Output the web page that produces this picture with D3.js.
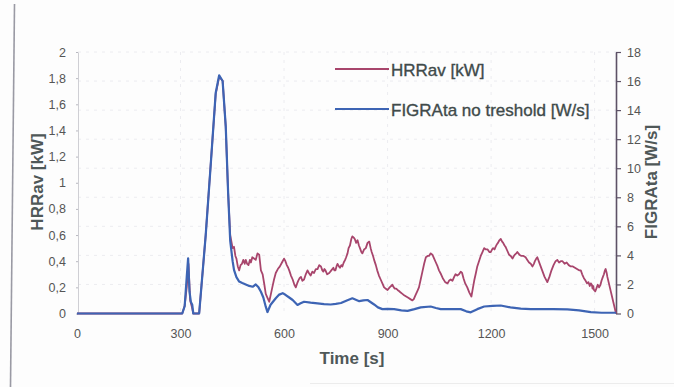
<!DOCTYPE html>
<html>
<head>
<meta charset="utf-8">
<script src="https://cdn.jsdelivr.net/npm/d3@7"></script>
<style>
  html, body { margin: 0; padding: 0; background: #fdfdfd; }
  svg { display: block; font-family: "Liberation Sans", Arial, sans-serif; }
</style>
</head>
<body>
<svg id="chart" width="674" height="387"></svg>
<script>
// HRRav [kW] over time
const hrrTime = [0, 305, 312, 318, 323, 328, 333, 337, 354, 373, 388, 402, 412, 422, 431, 438, 444, 451,
  455, 459, 462, 466, 470, 474, 478, 482, 486, 489, 493, 497, 501, 504, 508, 513, 518, 523, 528, 533,
  538, 543, 547, 552, 557, 562, 566, 571, 576, 582, 588, 594, 600, 604, 608, 612, 615, 620, 625, 630,
  634, 638, 641, 645, 649, 653, 658, 663, 668, 672, 677, 682, 687, 692, 697, 702, 707, 711, 714, 717,
  720, 725, 731, 737, 743, 746, 749, 752, 755, 759, 762, 766, 769, 773, 777, 780, 784, 787, 791, 795,
  798, 802, 805, 809, 813, 817, 820, 824, 827, 832, 837, 842, 847, 851, 854, 858, 861, 866, 870, 875,
  880, 885, 890, 895, 900, 906, 914, 918, 921, 925, 929, 934, 938, 943, 948, 954, 960, 966, 972, 976,
  981, 986, 991, 996, 1001, 1006, 1011, 1016, 1020, 1025, 1030, 1035, 1040, 1045, 1049, 1055, 1060,
  1067, 1074, 1078, 1083, 1088, 1093, 1097, 1102, 1107, 1112, 1116, 1120, 1125, 1131, 1137, 1143, 1147,
  1151, 1156, 1160, 1165, 1170, 1175, 1180, 1185, 1190, 1195, 1199, 1203, 1206, 1210, 1213, 1217, 1220,
  1224, 1228, 1232, 1235, 1239, 1242, 1247, 1252, 1257, 1262, 1266, 1269, 1273, 1276, 1282, 1288, 1294,
  1300, 1305, 1310, 1315, 1320, 1324, 1327, 1331, 1334, 1341, 1348, 1355, 1363, 1369, 1375, 1381, 1387,
  1392, 1397, 1402, 1407, 1413, 1419, 1425, 1431, 1437, 1443, 1449, 1455, 1460, 1464, 1469, 1474, 1478,
  1482, 1486, 1489, 1492, 1494, 1496, 1498, 1502, 1505, 1509, 1513, 1517, 1520, 1524, 1527, 1530, 1532,
  1535, 1537, 1562];
const hrrValue = [0, 0, 0.06, 0.2, 0.38, 0.1, 0.05, 0, 0, 0.6, 1.16, 1.68, 1.81, 1.78, 1.43, 0.92, 0.6, 0.5,
  0.51, 0.44, 0.42, 0.36, 0.33, 0.37, 0.38, 0.41, 0.38, 0.41, 0.38, 0.37, 0.41, 0.39, 0.43, 0.42, 0.41, 0.46, 0.45, 0.33,
  0.3, 0.22, 0.15, 0.12, 0.09, 0.15, 0.2, 0.26, 0.31, 0.34, 0.36, 0.39, 0.42, 0.4, 0.37, 0.35, 0.33, 0.29, 0.26, 0.22,
  0.2, 0.23, 0.25, 0.27, 0.28, 0.25, 0.26, 0.3, 0.33, 0.31, 0.29, 0.32, 0.31, 0.34, 0.34, 0.37, 0.36, 0.33, 0.32, 0.34,
  0.33, 0.3, 0.31, 0.33, 0.35, 0.33, 0.33, 0.36, 0.38, 0.36, 0.35, 0.37, 0.36, 0.39, 0.41, 0.43, 0.46, 0.5, 0.52, 0.57,
  0.59, 0.58, 0.57, 0.54, 0.56, 0.52, 0.5, 0.47, 0.46, 0.49, 0.5, 0.54, 0.55, 0.5, 0.47, 0.44, 0.41, 0.37, 0.33, 0.29,
  0.26, 0.23, 0.2, 0.19, 0.18, 0.2, 0.22, 0.2, 0.19, 0.19, 0.18, 0.17, 0.16, 0.15, 0.14, 0.13, 0.12, 0.11, 0.1, 0.11,
  0.14, 0.17, 0.2, 0.26, 0.32, 0.38, 0.43, 0.44, 0.44, 0.46, 0.45, 0.42, 0.39, 0.36, 0.33, 0.3, 0.27,
  0.24, 0.23, 0.25, 0.26, 0.25, 0.28, 0.3, 0.29, 0.3, 0.32, 0.31, 0.27, 0.23, 0.2, 0.16, 0.13, 0.19,
  0.25, 0.31, 0.36, 0.4, 0.44, 0.47, 0.5, 0.49, 0.49, 0.47, 0.47, 0.49, 0.5, 0.49, 0.51, 0.53, 0.54,
  0.56, 0.57, 0.55, 0.54, 0.52, 0.51, 0.48, 0.45, 0.44, 0.42, 0.44, 0.45, 0.46, 0.47, 0.45, 0.44, 0.44,
  0.43, 0.41, 0.39, 0.38, 0.36, 0.38, 0.4, 0.42, 0.43, 0.38, 0.33, 0.28, 0.24, 0.28, 0.33, 0.37, 0.4,
  0.41, 0.39, 0.4, 0.4, 0.38, 0.39, 0.37, 0.36, 0.36, 0.35, 0.34, 0.33, 0.33, 0.3, 0.27, 0.25, 0.23, 0.24,
  0.21, 0.23, 0.22, 0.19, 0.21, 0.18, 0.17, 0.19, 0.22, 0.2, 0.22, 0.25, 0.28, 0.3, 0.33, 0.34, 0.31,
  0.28, 0, 0];

// FIGRAta no treshold [W/s] over time
const figraTime = [0, 305, 312, 318, 322, 326, 330, 334, 337, 354, 373, 388, 402, 412, 422, 431, 438, 444,
  451, 455, 462, 470, 479, 489, 499, 509, 518, 526, 533, 540, 547, 552, 561, 576, 586, 596, 605, 615,
  625, 639, 648, 658, 677, 697, 716, 735, 750, 765, 782, 798, 818, 830, 842, 861, 872, 885, 900, 919,
  940, 958, 978, 996, 1025, 1040, 1054, 1083, 1112, 1128, 1141, 1160, 1180, 1205, 1228, 1256, 1286,
  1315, 1344, 1380, 1421, 1455, 1489, 1520, 1562];
const figraValue = [0, 0, 0.5, 2.5, 3.8, 1.5, 0.8, 0.6, 0, 0, 5.4, 10.4, 15.2, 16.4, 16.0, 12.9, 8.3, 5.0,
  3.6, 3.0, 2.5, 2.2, 2.1, 2.0, 1.9, 1.84, 2.0, 1.8, 1.5, 1.1, 0.47, 0.1, 0.6, 1.05, 1.3, 1.4, 1.27, 1.1,
  0.93, 0.59, 0.7, 0.81, 0.75, 0.7, 0.65, 0.62, 0.66, 0.72, 0.9, 1.05, 0.85, 0.9, 0.93, 0.62, 0.42, 0.3, 0.32, 0.3,
  0.22, 0.18, 0.3, 0.42, 0.48, 0.38, 0.3, 0.3, 0.3, 0.15, 0.08, 0.3, 0.48, 0.52, 0.55, 0.42, 0.34,
  0.3, 0.3, 0.3, 0.28, 0.22, 0.1, 0.05, 0.05];

const leftTicks = [0, 0.2, 0.4, 0.6, 0.8, 1, 1.2, 1.4, 1.6, 1.8, 2];
const rightTicks = [0, 2, 4, 6, 8, 10, 12, 14, 16, 18];
const timeTicks = [0, 300, 600, 900, 1200, 1500];

const hrrColor = "#a8456c";
const figraColor = "#3d64b4";
const textColor = "#4f5858";

const svg = d3.select("#chart");

const x = d3.scaleLinear().domain([0, 1562]).range([77, 616]);
const yL = d3.scaleLinear().domain([0, 2]).range([313.5, 52]);
const yR = d3.scaleLinear().domain([0, 18]).range([313.5, 52]);

// scan frame edge on the left
svg.append("line").attr("x1", 14.5).attr("y1", 4).attr("x2", 10.5).attr("y2", 387)
  .attr("stroke", "#9a9aa4").attr("stroke-width", 1.6);
svg.append("line").attr("x1", 310).attr("y1", 383.5).attr("x2", 674).attr("y2", 383.5)
  .attr("stroke", "#ececec").attr("stroke-width", 1);

// faint dashed grid
const grid = svg.append("g").attr("stroke", "#ececf0").attr("stroke-width", 1).attr("stroke-dasharray", "3,5");
grid.selectAll("line.v").data(timeTicks.slice(1)).join("line")
  .attr("x1", d => x(d)).attr("x2", d => x(d)).attr("y1", 52).attr("y2", 313.5);
grid.selectAll("line.h").data(rightTicks.slice(1)).join("line")
  .attr("x1", 78).attr("x2", 616).attr("y1", d => yR(d)).attr("y2", d => yR(d));

const tickFont = g => g.selectAll("text").attr("fill", "#555").attr("font-size", "12.5px")
  .attr("font-family", "Liberation Sans, Arial, sans-serif");

// left axis
const fmtComma = d => d3.format("~g")(d).replace(".", ",");
const gL = svg.append("g").attr("transform", "translate(78,0)")
  .call(d3.axisLeft(yL).tickValues(leftTicks).tickFormat(fmtComma).tickSizeInner(2).tickSizeOuter(0).tickPadding(10));
gL.select(".domain").attr("stroke", "#cfcfd4");
gL.selectAll(".tick line").attr("stroke", "#b8b8c0");
tickFont(gL);

// right axis
const gR = svg.append("g").attr("transform", "translate(616,0)")
  .call(d3.axisRight(yR).tickValues(rightTicks).tickSizeInner(5).tickSizeOuter(0).tickPadding(6));
gR.select(".domain").attr("stroke", "#5d5266").attr("stroke-width", 1.6);
gR.selectAll(".tick line").attr("stroke", "#5d5266").attr("stroke-width", 1.2);
tickFont(gR);

// bottom axis (labels only)
const gB = svg.append("g").attr("transform", "translate(0,313.5)")
  .call(d3.axisBottom(x).tickValues(timeTicks).tickFormat(d3.format("d")).tickSize(0).tickPadding(16));
gB.select(".domain").remove();
tickFont(gB);

// series
const lineHrr = d3.line().x((d, i) => x(hrrTime[i])).y(d => yL(d));
const lineFigra = d3.line().x((d, i) => x(figraTime[i])).y(d => yR(d));

svg.append("path").datum(hrrValue).attr("d", lineHrr)
  .attr("fill", "none").attr("stroke", hrrColor).attr("stroke-width", 1.8).attr("stroke-linejoin", "round");
svg.append("path").datum(figraValue).attr("d", lineFigra)
  .attr("fill", "none").attr("stroke", figraColor).attr("stroke-width", 2.2).attr("stroke-linejoin", "round");

// axis titles
svg.append("text").attr("x", 352).attr("y", 364).attr("text-anchor", "middle")
  .attr("font-size", "17px").attr("font-weight", "bold").attr("fill", textColor).text("Time [s]");
svg.append("text").attr("transform", "translate(43,182) rotate(-90)").attr("text-anchor", "middle")
  .attr("font-size", "17px").attr("font-weight", "bold").attr("fill", textColor).text("HRRav [kW]");
svg.append("text").attr("transform", "translate(657,182) rotate(-90)").attr("text-anchor", "middle")
  .attr("font-size", "17px").attr("font-weight", "bold").attr("fill", textColor).text("FIGRAta [W/s]");

// legend
const legend = [
  { label: "HRRav [kW]", color: hrrColor, y: 69 },
  { label: "FIGRAta no treshold [W/s]", color: figraColor, y: 109 }
];
const lg = svg.append("g");
lg.selectAll("line").data(legend).join("line")
  .attr("x1", 335).attr("x2", 389).attr("y1", d => d.y).attr("y2", d => d.y)
  .attr("stroke", d => d.color).attr("stroke-width", 2);
lg.selectAll("text").data(legend).join("text")
  .attr("x", 391).attr("y", d => d.y + 6.5)
  .attr("font-size", "17px").attr("fill", "#404a4a")
  .attr("stroke", "#404a4a").attr("stroke-width", 0.35)
  .text(d => d.label);
</script>
</body>
</html>
